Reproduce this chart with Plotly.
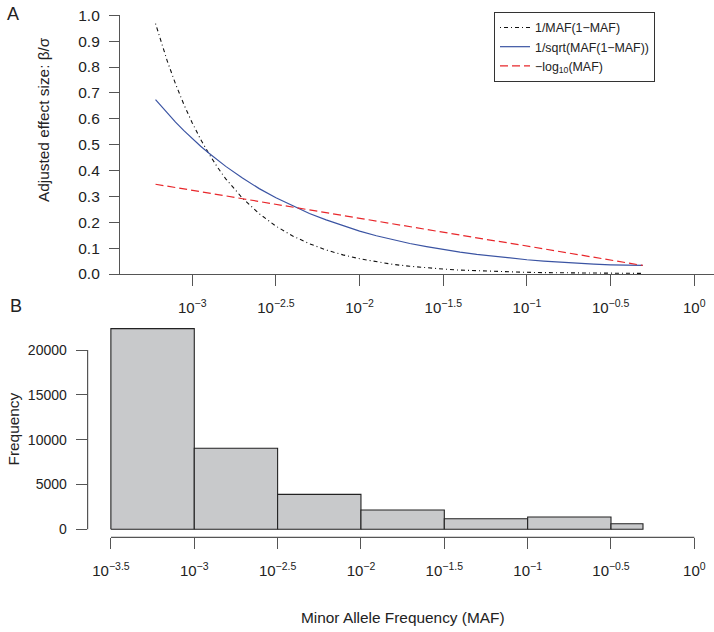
import plotly.graph_objects as go

W, H = 714, 632
FONT = "Liberation Sans, Arial, Helvetica, sans-serif"
TXT = "#222222"
AX = "#555555"

# ---------------- data: panel A ----------------
maf = [0.000603, 0.000708, 0.000794, 0.000891, 0.001, 0.001122, 0.001259, 0.001413,
       0.001585, 0.001995, 0.002512, 0.003162, 0.003981, 0.005012, 0.00631, 0.007943,
       0.01, 0.012589, 0.015849, 0.019953, 0.025119, 0.031623, 0.039811, 0.050119,
       0.063096, 0.079433, 0.1, 0.125893, 0.158489, 0.199526, 0.251189, 0.316228,
       0.398107, 0.492]
inv_var = [0.968, 0.824, 0.735, 0.655, 0.584, 0.520, 0.464, 0.413, 0.368, 0.293, 0.233,
           0.185, 0.147, 0.117, 0.093, 0.074, 0.059, 0.047, 0.037, 0.030, 0.024, 0.019,
           0.015, 0.0122, 0.0099, 0.0080, 0.0065, 0.0053, 0.0044, 0.0037, 0.0031, 0.0027,
           0.0024, 0.0023]
inv_sd = [0.674, 0.622, 0.587, 0.554, 0.523, 0.494, 0.467, 0.440, 0.416, 0.371, 0.330,
          0.295, 0.263, 0.234, 0.209, 0.186, 0.166, 0.148, 0.132, 0.118, 0.106, 0.0945,
          0.0846, 0.0758, 0.068, 0.0612, 0.0551, 0.0499, 0.0453, 0.0414, 0.0381, 0.0356,
          0.0338, 0.0331]
neg_log = [0.347, 0.340, 0.334, 0.329, 0.323, 0.318, 0.313, 0.307, 0.302, 0.291, 0.280,
           0.270, 0.259, 0.248, 0.237, 0.226, 0.216, 0.205, 0.194, 0.183, 0.172, 0.162,
           0.151, 0.140, 0.129, 0.119, 0.108, 0.097, 0.086, 0.075, 0.065, 0.054, 0.043,
           0.033]
series_names = ["1/MAF(1\u2212MAF)", "1/sqrt(MAF(1\u2212MAF))", "\u2212log<sub>10</sub>(MAF)"]

# ---------------- data: panel B histogram ----------------
bin_edges = [0.000316, 0.001, 0.003162, 0.01, 0.031623, 0.1, 0.316228, 0.492]
counts = [22400, 9050, 3900, 2150, 1180, 1370, 620]

# tick definitions
top_x_exps = [-3, -2.5, -2, -1.5, -1, -0.5, 0]
bot_x_exps = [-3.5, -3, -2.5, -2, -1.5, -1, -0.5, 0]
top_y_ticks = [0.0, 0.1, 0.2, 0.3, 0.4, 0.5, 0.6, 0.7, 0.8, 0.9, 1.0]
bot_y_ticks = [0, 5000, 10000, 15000, 20000]


def fx(px):
    return px / W


def fy(py):
    return 1 - py / H


def exp_label(e):
    s = ("%g" % e).replace("-", "\u2212")
    return "10<sup>%s</sup>" % s


fig = go.Figure()

# panel A curves
fig.add_trace(go.Scatter(x=maf, y=inv_var, mode="lines", name=series_names[0],
                         line=dict(color="#111111", width=1.1, dash="1px,3px,4px,3px"),
                         xaxis="x", yaxis="y"))
fig.add_trace(go.Scatter(x=maf, y=inv_sd, mode="lines", name=series_names[1],
                         line=dict(color="#3B54A3", width=1.2),
                         xaxis="x", yaxis="y"))
fig.add_trace(go.Scatter(x=maf, y=neg_log, mode="lines", name=series_names[2],
                         line=dict(color="#E8272B", width=1.2, dash="8px,4px"),
                         xaxis="x", yaxis="y"))

# panel B histogram bars
for i, c in enumerate(counts):
    l, r = bin_edges[i], bin_edges[i + 1]
    fig.add_trace(go.Scatter(x=[l, l, r, r, l], y=[0, c, c, 0, 0], mode="lines",
                             fill="toself", fillcolor="#C8C9CB",
                             line=dict(color="#222222", width=1.1),
                             showlegend=False, hoverinfo="skip",
                             xaxis="x2", yaxis="y2"))

# axis ranges (log units for log axes)
top_xr = [-3.432, 0.118]
bot_xr = [-3.64, 0.118]
bot_yr = [-896, 23296]

tickfont = dict(family=FONT, size=15, color=TXT)

fig.update_layout(
    template="none",
    width=W, height=H,
    margin=dict(l=0, r=0, t=0, b=0, pad=0),
    plot_bgcolor="white", paper_bgcolor="white",
    font=dict(family=FONT, color=TXT),
    xaxis=dict(type="log", range=top_xr, domain=[fx(120), 1.0], anchor="y",
               automargin=False,
               showgrid=False, zeroline=False, showline=True, linecolor=AX, linewidth=1.2,
               ticks="outside", ticklen=11, tickcolor=AX, tickwidth=1.2,
               tickvals=[10 ** e for e in top_x_exps],
               ticktext=[exp_label(e) for e in top_x_exps],
               tickfont=tickfont, ticklabelstandoff=9),
    yaxis=dict(range=[0, 1], domain=[fy(274), fy(15.3)], anchor="x",
               automargin=False,
               showgrid=False, zeroline=False, showline=True, linecolor=AX, linewidth=1.2,
               ticks="outside", ticklen=10, tickcolor=AX, tickwidth=1.2,
               tickvals=top_y_ticks, ticktext=["%.1f" % v for v in top_y_ticks],
               tickfont=dict(family=FONT, size=15.5, color=TXT), ticklabelstandoff=6),
    xaxis2=dict(type="log", range=bot_xr, domain=[fx(87.6), 1.0], anchor="y2",
                automargin=False,
                showgrid=False, zeroline=False, showline=False,
                ticks="outside", ticklen=11, tickcolor=AX, tickwidth=1.2,
                tickvals=[10 ** e for e in bot_x_exps],
                ticktext=[exp_label(e) for e in bot_x_exps],
                tickfont=tickfont, ticklabelstandoff=9),
    yaxis2=dict(range=bot_yr, domain=[fy(537.3), fy(320.6)], anchor="x2",
                automargin=False,
                showgrid=False, zeroline=False, showline=False,
                ticks="outside", ticklen=11, tickcolor=AX, tickwidth=1.2,
                tickvals=bot_y_ticks, ticktext=[str(v) for v in bot_y_ticks],
                tickfont=dict(family=FONT, size=14, color=TXT), ticklabelstandoff=6),
    legend=dict(x=fx(494), y=fy(12), xanchor="left", yanchor="top",
                bgcolor="white", bordercolor="#333333", borderwidth=1,
                font=dict(family=FONT, size=12.4, color=TXT),
                tracegroupgap=0, itemwidth=30),
    showlegend=True,
)


def frac(v, r):
    return (v - r[0]) / (r[1] - r[0])


# R-style axis lines for panel B (from first to last tick)
fig.add_shape(type="line", xref="x2 domain", yref="y2 domain",
              x0=frac(bot_x_exps[0], bot_xr), x1=frac(bot_x_exps[-1], bot_xr), y0=0, y1=0,
              line=dict(color=AX, width=1.2))
fig.add_shape(type="line", xref="x2 domain", yref="y2",
              x0=0, x1=0, y0=bot_y_ticks[0], y1=bot_y_ticks[-1],
              line=dict(color=AX, width=1.2))

# titles and panel letters
ann = [
    dict(text="A", x=fx(13), y=fy(14), size=18),
    dict(text="B", x=fx(16), y=fy(306), size=18),
    dict(text="Adjusted effect size: \u03b2/\u03c3", x=fx(43), y=fy(120), size=15.4, angle=-90),
    dict(text="Frequency", x=fx(13.5), y=fy(429), size=15.4, angle=-90),
    dict(text="Minor Allele Frequency (MAF)", x=fx(403), y=fy(617), size=15.4),
]
for a in ann:
    fig.add_annotation(text=a["text"], x=a["x"], y=a["y"], xref="paper", yref="paper",
                       xanchor="center", yanchor="middle", showarrow=False,
                       textangle=a.get("angle", 0),
                       font=dict(family=FONT, size=a["size"], color=TXT))

fig.write_html("out.html", config={"displayModeBar": False},
               post_script="document.body.style.margin='0';")
